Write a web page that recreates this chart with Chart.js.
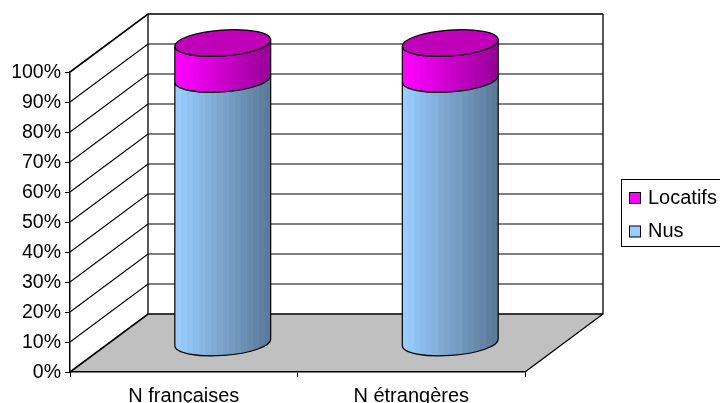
<!DOCTYPE html>
<html lang="fr">
  <head>
    <meta charset="UTF-8" />
    <title>Locatifs / Nus</title>
    <script src="https://cdn.jsdelivr.net/npm/chart.js"></script>
    <style>
      html, body { margin: 0; padding: 0; background: #fff; overflow: hidden; }
      canvas { display: block; }
    </style>
  </head>
  <body>
    <canvas id="chart" width="720" height="403"></canvas>
    <script>
      const categories = ["N françaises", "N étrangères"];
      const nus = [88, 88];
      const locatifs = [12, 12];
      const yTicks = [0, 10, 20, 30, 40, 50, 60, 70, 80, 90, 100];

      const FONT = "'Liberation Sans', Arial, sans-serif";
      // fausse 3D : décalage du mur du fond par rapport à l'axe avant
      const DX = 78, DY = -58;
      const RY = 13, TILT = -0.072;

      function bandGradient(ctx, x0, x1, from, to) {
        const g = ctx.createLinearGradient(x0, 0, x1, 0);
        const n = 16;
        for (let i = 0; i < n; i++) {
          const t = i / (n - 1);
          const c = from.map((v, k) => Math.round(v + (to[k] - v) * t));
          const col = `rgb(${c[0]},${c[1]},${c[2]})`;
          g.addColorStop(i / n, col);
          g.addColorStop((i + 1) / n, col);
        }
        return g;
      }

      /* murs et sol */
      function drawWalls(chart) {
        const { ctx, chartArea: a, scales } = chart;
        const y0 = scales.y.getPixelForValue(0);
        const y100 = scales.y.getPixelForValue(100);
        ctx.save();
        ctx.fillStyle = "#c0c0c0";
        ctx.beginPath();
        ctx.moveTo(a.left, y0);
        ctx.lineTo(a.right, y0);
        ctx.lineTo(a.right + DX, y0 + DY);
        ctx.lineTo(a.left + DX, y0 + DY);
        ctx.closePath();
        ctx.fill();

        ctx.strokeStyle = "#000";
        yTicks.forEach(v => {
          const y = scales.y.getPixelForValue(v);
          ctx.lineWidth = v === 0 || v === 100 ? 1.6 : 1.1;
          ctx.beginPath();
          ctx.moveTo(a.left, y);
          ctx.lineTo(a.left + DX, y + DY);
          ctx.lineTo(a.right + DX, y + DY);
          ctx.stroke();
        });
        ctx.lineWidth = 1.3;
        ctx.beginPath();
        ctx.moveTo(a.left + DX, y100 + DY);
        ctx.lineTo(a.left + DX, y0 + DY);
        ctx.moveTo(a.right + DX, y100 + DY);
        ctx.lineTo(a.right + DX, y0 + DY);
        ctx.lineTo(a.right, y0);
        ctx.stroke();
        ctx.restore();
      }

      /* cylindre : les positions viennent de la barre calculée par Chart.js */
      function drawCylinder(ctx, bar, colors, withCap) {
        const cx = bar.x + DX / 2;
        const top = bar.y + DY / 2;
        const base = bar.base + DY / 2;
        const rx = bar.width / 2;
        ctx.save();
        ctx.beginPath();
        ctx.ellipse(cx, base, rx, RY, TILT, 0, Math.PI, false);
        ctx.ellipse(cx, top, rx, RY, TILT, Math.PI, 0, true);
        ctx.closePath();
        ctx.fillStyle = bandGradient(ctx, cx - rx, cx + rx, colors.from, colors.to);
        ctx.fill();
        ctx.strokeStyle = "#000";
        ctx.lineWidth = 1.2;
        ctx.stroke();
        if (withCap) {
          ctx.beginPath();
          ctx.ellipse(cx, top, rx, RY, TILT, 0, Math.PI * 2);
          ctx.fillStyle = colors.cap;
          ctx.fill();
          ctx.stroke();
        }
        ctx.restore();
      }

      const shades = [
        { from: [153, 204, 255], to: [92, 122, 153] },
        { from: [255, 0, 255], to: [153, 0, 153], cap: "#c000b8" },
      ];

      /* légende encadrée, coupée par le bord droit comme l'original */
      function drawLegend(chart) {
        const ctx = chart.ctx;
        ctx.save();
        ctx.fillStyle = "#fff";
        ctx.strokeStyle = "#000";
        ctx.lineWidth = 1;
        ctx.fillRect(621.5, 179.5, 110, 67);
        ctx.strokeRect(621.5, 179.5, 110, 67);
        ctx.font = `20px ${FONT}`;
        ctx.textBaseline = "alphabetic";
        const items = chart.data.datasets.slice().reverse();
        items.forEach((ds, i) => {
          const y = 192.5 + i * 33.5;
          ctx.fillStyle = ds.backgroundColor;
          ctx.fillRect(629.5, y, 11, 11);
          ctx.strokeRect(629.5, y, 11, 11);
          ctx.fillStyle = "#000";
          ctx.fillText(ds.label, 648, y + 11);
        });
        ctx.restore();
      }

      const cylinders = {
        id: "cylinders",
        beforeDraw: drawWalls,
        beforeDatasetDraw(chart, args) {
          const last = chart.data.datasets.length - 1;
          args.meta.data.forEach(bar => {
            drawCylinder(chart.ctx, bar, shades[args.index], args.index === last);
          });
          return false;
        },
        afterDraw: drawLegend,
      };

      new Chart(document.getElementById("chart"), {
        type: "bar",
        data: {
          labels: categories,
          datasets: [
            { label: "Nus", data: nus, backgroundColor: "#99ccff" },
            { label: "Locatifs", data: locatifs, backgroundColor: "#ff00ff" },
          ],
        },
        plugins: [cylinders],
        options: {
          responsive: false,
          animation: false,
          devicePixelRatio: 1,
          categoryPercentage: 0.845,
          barPercentage: 0.5,
          layout: { padding: { top: 72, right: 195, left: 0, bottom: 0 } },
          plugins: { legend: { display: false }, tooltip: { enabled: false } },
          scales: {
            x: {
              stacked: true,
              afterFit(s) { s.height = 31; },
              grid: { drawOnChartArea: false, color: "#000", tickLength: 5 },
              border: { color: "#000", width: 1.5 },
              ticks: { color: "#000", font: { family: FONT, size: 20 }, padding: 7.5, maxRotation: 0 },
            },
            y: {
              stacked: true,
              min: 0,
              max: 100,
              afterFit(s) { s.width = 70; },
              afterBuildTicks(s) { s.ticks = yTicks.map(value => ({ value })); },
              grid: { drawOnChartArea: false, color: "#000", tickLength: 5 },
              border: { color: "#000", width: 1.5 },
              ticks: {
                color: "#000",
                font: { family: FONT, size: 19.5 },
                padding: 4,
                labelOffset: 1,
                callback: v => v + "%",
              },
            },
          },
        },
      });
    </script>
  </body>
</html>
